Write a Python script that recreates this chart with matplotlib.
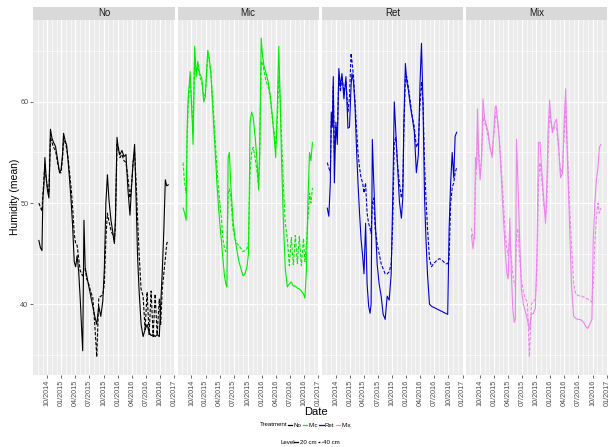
import numpy as np
import pandas as pd
import matplotlib
matplotlib.use('Agg')
import matplotlib.pyplot as plt
import matplotlib.dates as mdates
from matplotlib.lines import Line2D
from matplotlib.patches import Rectangle

plt.rcParams['font.family'] = ['Liberation Sans', 'DejaVu Sans']

# sampling dates (shared by all series)
dates = pd.to_datetime([
    '2014-08-08', '2014-08-18', '2014-08-28', '2014-09-03', '2014-09-10', '2014-09-16',
    '2014-09-23', '2014-10-03', '2014-10-12', '2014-10-22', '2014-11-01', '2014-11-11',
    '2014-11-24', '2014-12-07', '2014-12-20', '2014-12-30', '2015-01-09', '2015-01-15',
    '2015-01-25', '2015-02-04', '2015-02-13', '2015-02-23', '2015-03-05', '2015-03-15',
    '2015-03-25', '2015-04-03', '2015-04-13', '2015-04-23', '2015-05-03', '2015-05-12',
    '2015-05-19', '2015-05-27', '2015-06-04', '2015-06-14', '2015-06-27', '2015-07-10',
    '2015-07-23', '2015-08-05', '2015-08-18', '2015-08-31', '2015-09-13', '2015-09-26',
    '2015-10-06', '2015-10-16', '2015-10-26', '2015-11-05', '2015-11-18', '2015-12-01',
    '2015-12-10', '2015-12-17', '2015-12-27', '2016-01-05', '2016-01-15', '2016-01-28',
    '2016-02-10', '2016-02-23', '2016-03-07', '2016-03-20', '2016-03-30', '2016-04-09',
    '2016-04-19', '2016-04-29', '2016-05-08', '2016-05-18', '2016-05-31', '2016-06-13',
    '2016-06-26', '2016-07-09', '2016-07-22', '2016-08-04', '2016-08-17', '2016-08-30',
    '2016-09-12', '2016-09-26', '2016-10-05', '2016-10-15', '2016-10-25', '2016-11-04',
    '2016-11-13', '2016-11-23'])

# Humidity (mean), 20 cm and 40 cm for each treatment
no_20 = [46.3, 45.6, 45.3, 50.5, 51.8, 54.5, 52.8, 51.2, 50.5, 57.3, 56.4, 56.0,
         55.6, 54.3, 53.0, 53.3, 55.0, 56.9, 56.2, 55.7, 54.2, 52.3, 50.2, 47.6,
         44.2, 43.7, 44.8, 43.2, 40.5, 37.5, 35.4, 48.3, 43.6, 42.8, 41.8, 40.8,
         39.8, 38.8, 38.0, 39.8, 38.8, 40.3, 43.5, 50.0, 52.8, 50.3, 48.3, 47.0,
         46.0, 48.5, 56.5, 55.3, 54.8, 55.2, 54.6, 54.8, 51.3, 48.8, 51.5, 54.0,
         55.8, 50.2, 44.8, 41.4, 38.0, 36.8, 37.5, 38.0, 37.2, 36.9, 37.0, 36.8,
         37.0, 36.8, 40.0, 43.2, 47.2, 52.3, 51.7, 51.8]
no_40 = [50.0, 49.6, 49.2, 50.8, 52.5, 53.8, 52.5, 51.5, 51.0, 56.5, 56.0, 55.5,
         55.2, 54.0, 53.0, 53.0, 54.5, 56.4, 56.0, 55.4, 54.5, 53.0, 51.5, 49.5,
         47.0, 46.0, 45.8, 44.5, 43.3, 43.0, 42.8, 43.5, 43.5, 42.5, 42.0, 41.2,
         40.7, 38.0, 34.8, 40.6, 40.8, 40.9, 42.0, 46.5, 49.0, 48.2, 47.3, 46.8,
         46.2, 48.0, 55.8, 55.5, 54.5, 54.8, 54.2, 54.0, 52.5, 50.5, 51.8, 54.0,
         55.0, 52.0, 48.5, 45.0, 41.5, 40.8, 37.5, 41.2, 37.0, 41.3, 36.8, 41.0,
         37.0, 40.5, 38.0, 41.5, 43.0, 44.5, 46.0, 46.3]
mic_20 = [49.5, 49.0, 48.3, 57.0, 60.5, 61.5, 63.0, 59.2, 55.8, 65.5, 62.5, 64.0,
          62.8, 62.4, 60.0, 60.5, 63.5, 65.1, 64.3, 62.8, 60.3, 57.5, 54.8, 52.0,
          49.7, 48.0, 46.3, 44.5, 42.8, 42.0, 41.7, 54.5, 55.0, 51.5, 48.5, 46.5,
          45.3, 44.2, 43.5, 42.8, 43.0, 43.7, 45.0, 58.0, 59.0, 58.5, 56.5, 54.0,
          51.3, 55.0, 66.3, 64.5, 63.5, 62.8, 62.0, 60.7, 58.8, 56.5, 54.5, 59.5,
          65.5, 59.5, 53.5, 48.5, 43.5, 41.7, 42.0, 42.2, 41.8, 41.8, 41.6, 41.5,
          41.3, 41.0, 40.6, 43.5, 50.5, 55.0, 54.2, 56.0]
mic_40 = [54.0, 52.0, 51.0, 56.0, 59.5, 61.0, 62.0, 60.0, 57.0, 64.5, 63.0, 63.5,
          62.5, 62.0, 60.5, 60.8, 63.0, 64.5, 64.0, 63.0, 61.0, 58.5, 56.0, 53.5,
          51.5, 50.0, 48.5, 46.5, 45.5, 45.2, 45.5, 51.0, 51.4, 50.5, 47.5, 46.5,
          46.0, 45.8, 45.5, 45.2, 45.3, 45.5, 46.2, 53.0, 55.0, 55.5, 54.5, 53.0,
          51.8, 54.0, 64.0, 63.8, 63.0, 62.0, 61.5, 60.5, 58.5, 57.0, 55.5, 58.0,
          62.5, 60.0, 56.0, 52.0, 48.0, 46.5, 43.8, 46.6, 43.9, 46.8, 44.0, 46.7,
          43.8, 46.5, 44.2, 46.0, 48.5, 51.0, 50.0, 51.5]
ret_20 = [49.5, 48.7, 52.0, 59.0, 57.5, 62.5, 52.0, 58.0, 55.8, 63.3, 61.5, 62.8,
          60.3, 62.5, 57.4, 57.5, 61.5, 62.8, 62.0, 59.5, 55.5, 52.0, 49.0, 46.4,
          44.8, 43.0, 48.0, 42.0, 39.8, 39.1, 40.0, 56.3, 52.5, 48.5, 44.0, 42.0,
          40.8, 39.0, 38.5, 40.8, 40.4, 43.0, 50.5, 60.0, 57.0, 54.0, 50.2, 48.5,
          50.5, 58.0, 63.8, 62.0, 61.2, 59.6, 58.4, 57.0, 53.0, 54.8, 61.5, 65.8,
          59.8, 50.5, 46.5, 43.0, 40.0, 39.8, 39.7, 39.6, 39.5, 39.4, 39.3, 39.2,
          39.1, 39.0, 47.5, 52.0, 55.0, 52.5, 56.6, 57.0]
ret_40 = [54.0, 53.5, 53.0, 58.0, 58.5, 61.5, 55.0, 57.5, 57.0, 62.5, 61.0, 62.5,
          61.0, 62.0, 59.0, 60.5, 64.8, 64.0, 62.5, 60.0, 57.5, 55.0, 53.5, 52.5,
          52.0, 51.0, 52.0, 49.0, 48.0, 47.5, 47.0, 50.0, 50.5, 47.5, 46.0, 45.0,
          44.0, 43.5, 43.0, 43.0, 43.2, 44.0, 48.0, 56.0, 56.5, 54.0, 52.0, 50.5,
          51.5, 57.0, 62.5, 62.5, 61.5, 60.0, 58.5, 57.5, 55.5, 56.0, 59.5, 62.0,
          60.0, 54.0, 50.5, 47.5, 44.5, 43.7, 44.0, 44.2, 44.4, 44.5, 44.4, 44.2,
          44.0, 44.0, 44.5, 50.0, 51.5, 52.0, 53.0, 53.5]
mix_20 = [46.8, 45.5, 47.0, 54.5, 53.5, 59.3, 54.8, 52.3, 54.5, 60.3, 58.3, 57.8,
          57.0, 55.4, 54.5, 57.0, 59.5, 59.6, 58.0, 56.3, 53.8, 50.8, 48.0, 45.2,
          43.1, 42.5, 48.5, 43.2, 39.5, 38.2, 38.5, 56.3, 52.5, 47.5, 41.5, 40.0,
          39.3, 38.5, 37.5, 39.0, 39.1, 39.6, 45.0, 56.0, 56.0, 53.5, 50.6, 48.0,
          52.5, 57.0, 60.2, 58.2, 57.0, 57.9, 58.3, 55.6, 52.5, 53.0, 58.0, 61.3,
          55.0, 50.6, 46.0, 41.5, 38.8, 38.6, 38.5, 38.5, 38.4, 38.2, 37.8, 37.6,
          38.0, 38.5, 46.5, 50.0, 52.3, 53.5, 55.5, 55.8]
mix_40 = [47.5, 46.5, 46.5, 52.0, 53.5, 57.0, 55.5, 53.0, 54.0, 58.5, 58.0, 57.5,
          56.5, 55.5, 55.0, 56.5, 58.5, 59.0, 58.0, 56.5, 54.5, 52.0, 49.5, 47.0,
          45.5, 44.8, 46.5, 44.5, 43.0, 42.0, 41.8, 47.0, 47.5, 45.0, 42.5, 41.2,
          40.6, 40.2, 34.8, 40.0, 40.3, 40.5, 43.0, 52.0, 54.0, 52.5, 50.0, 48.5,
          50.5, 55.0, 59.0, 58.0, 57.0, 57.5, 57.5, 55.5, 53.0, 53.5, 56.5, 59.5,
          56.0, 52.0, 48.5, 45.5, 42.0, 41.0, 40.9, 40.8, 40.8, 40.7, 40.6, 40.5,
          40.4, 40.2, 42.0, 46.0, 48.5, 50.0, 49.0, 49.5]

treatments = ['No', 'Mic', 'Ret', 'Mix']
levels = ['20 cm', '40 cm']
series_20 = [no_20, mic_20, ret_20, mix_20]
series_40 = [no_40, mic_40, ret_40, mix_40]
colors = ['black', '#00EE00', '#0000CD', '#EE82EE']

W, H = 609, 447
fig = plt.figure(figsize=(W / 100, H / 100), dpi=100)
fig.patch.set_facecolor('white')

x0 = pd.Timestamp('2014-07-03')
x1 = pd.Timestamp('2017-01-03')
bottom, top = 375, 20
pw = 141.3

for i, name in enumerate(treatments):
    left = 33.3 + i * 144.2
    ax = fig.add_axes([left / W, 1 - bottom / H, pw / W, (bottom - top) / H])
    ax.set_facecolor('#EBEBEB')
    for s in ax.spines.values():
        s.set_visible(False)

    ax.plot(dates, series_20[i], color=colors[i], lw=0.8)
    ax.plot(dates, series_40[i], color=colors[i], lw=0.8, dashes=(3, 1.5))

    ax.set_xlim(x0, x1)
    ax.set_ylim(33.0, 68.1)
    ax.xaxis.set_major_locator(mdates.MonthLocator(bymonth=[1, 4, 7, 10]))
    ax.xaxis.set_minor_locator(mdates.MonthLocator())
    ax.xaxis.set_major_formatter(mdates.DateFormatter('%m/%Y'))
    ax.set_yticks([40, 50, 60])
    ax.set_yticks([35, 45, 55, 65], minor=True)
    ax.grid(which='major', color='white', lw=0.9)
    ax.grid(which='minor', color='white', lw=0.45)
    ax.set_axisbelow(True)
    ax.tick_params(which='major', length=2, width=0.5, color='#333333',
                   labelsize=5.2, labelcolor='#4D4D4D', pad=1.5)
    ax.tick_params(which='minor', length=0)
    for lab in ax.get_xticklabels():
        lab.set_rotation(90)
    if i > 0:
        ax.tick_params(axis='y', length=0, labelleft=False)

    sh = 13.3 / (bottom - top)
    ax.add_patch(Rectangle((0, 1), 1, sh, transform=ax.transAxes,
                           facecolor='#D9D9D9', edgecolor='none', clip_on=False))
    ax.text(0.5, 1 + sh / 2, name, transform=ax.transAxes, ha='center',
            va='center', fontsize=7, color='#1A1A1A')

fig.text(15.5 / W, 1 - 197 / H, 'Humidity (mean)', rotation=90, ha='center',
         va='center', fontsize=7.5)
fig.text(316 / W, 1 - 412 / H, 'Date', ha='center', va='center', fontsize=8)

# legends
fig.text(260 / W, 1 - 425 / H, 'Treatment', ha='left', va='center', fontsize=4.4)
th = [Line2D([], [], color=c, lw=0.9) for c in colors]
fig.legend(th, treatments, loc='center left', bbox_to_anchor=(288 / W, 1 - 425 / H),
           ncol=4, frameon=False, fontsize=4.4, handlelength=0.7, handletextpad=0.2,
           columnspacing=0.25, borderpad=0, borderaxespad=0)

fig.text(280.5 / W, 1 - 442 / H, 'Level', ha='left', va='center', fontsize=4.4)
lh = [Line2D([], [], color='black', lw=0.9),
      Line2D([], [], color='black', lw=0.9, dashes=(1.5, 1.2))]
fig.legend(lh, levels, loc='center left', bbox_to_anchor=(294 / W, 1 - 442 / H),
           ncol=2, frameon=False, fontsize=4.4, handlelength=0.7, handletextpad=0.2,
           columnspacing=0.25, borderpad=0, borderaxespad=0)

fig.savefig('out.png', dpi=100)
